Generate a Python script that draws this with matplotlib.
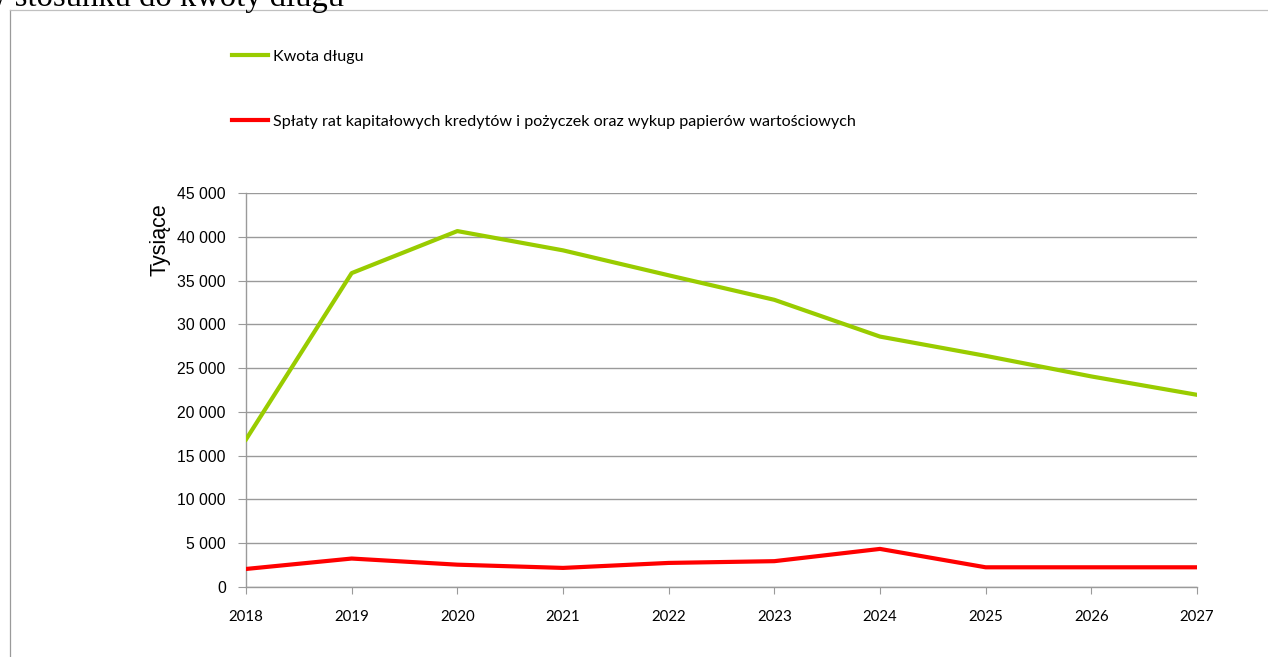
import matplotlib
matplotlib.use("Agg")
import matplotlib.pyplot as plt
from matplotlib.ticker import FuncFormatter
from matplotlib.lines import Line2D

years = [2018, 2019, 2020, 2021, 2022, 2023, 2024, 2025, 2026, 2027]
kwota_dlugu = [16850, 35850, 40650, 38450, 35600, 32800, 28600, 26400, 24050, 21950]
splaty = [2060, 3250, 2550, 2180, 2750, 2950, 4350, 2250, 2250, 2250]
series_labels = ["Kwota długu",
                 "Spłaty rat kapitałowych kredytów i pożyczek oraz wykup papierów wartościowych"]
y_label = "Tysiące"
header_text = "w stosunku do kwoty długu"

W, H = 1268, 657
fig = plt.figure(figsize=(W / 100, H / 100), dpi=100)
fig.patch.set_facecolor("white")

def fx(px):
    return px / W

def fy(py):
    return 1 - py / H

# frame lines of the surrounding box
fig.add_artist(Line2D([fx(10), fx(10)], [fy(10), fy(H)], color="#9a9a9a", lw=0.9))
fig.add_artist(Line2D([fx(10), fx(W)], [fy(10), fy(10)], color="#c0c0c0", lw=0.9))

# cut-off header text
fig.text(fx(344), fy(6), header_text, family="Liberation Serif", fontsize=23.5,
         ha="right", va="baseline", color="black")

AX_L, AX_R, AX_T, AX_B = 246, 1197, 193, 587
ax = fig.add_axes([fx(AX_L), fy(AX_B), fx(AX_R) - fx(AX_L), fy(AX_T) - fy(AX_B)])
ax.plot(years, kwota_dlugu, color="#99CC00", lw=3.0, label=series_labels[0],
        solid_joinstyle="round", zorder=3)
ax.plot(years, splaty, color="#FF0000", lw=3.0, label=series_labels[1],
        solid_joinstyle="round", zorder=3)

ax.set_xlim(2018, 2027)
ax.set_ylim(0, 45000)
ax.set_xticks(years)
ax.set_yticks(range(0, 45001, 5000))
ax.yaxis.set_major_formatter(FuncFormatter(lambda v, p: f"{int(v):,}".replace(",", " ")))
ax.grid(axis="y", color="#9a9a9a", lw=1.0)
ax.set_axisbelow(True)
for s in ["top", "right"]:
    ax.spines[s].set_visible(False)
for s in ["left", "bottom"]:
    ax.spines[s].set_color("#9a9a9a")
    ax.spines[s].set_linewidth(1.0)
ax.tick_params(axis="y", direction="out", length=6, color="#9a9a9a", pad=8.5)
ax.tick_params(axis="x", direction="out", length=5, color="#9a9a9a", pad=11.5)
for lab in ax.get_yticklabels():
    lab.set_family("Liberation Sans")
    lab.set_fontsize(11.3)
for lab in ax.get_xticklabels():
    lab.set_family("Lato")
    lab.set_fontsize(10.8)
ax.set_ylabel(y_label, family="Liberation Sans", fontsize=15.5)
ax.yaxis.set_label_coords((171 - AX_L) / (AX_R - AX_L), (AX_B - 240) / (AX_B - AX_T))

leg = fig.legend(loc="upper left", bbox_to_anchor=(fx(232), fy(49.5)), frameon=False,
                 prop={"family": "Lato", "size": 11.6}, handlelength=2.23,
                 handletextpad=0.31, labelspacing=3.16, borderpad=0, borderaxespad=0)

fig.savefig("out.png", dpi=100)
